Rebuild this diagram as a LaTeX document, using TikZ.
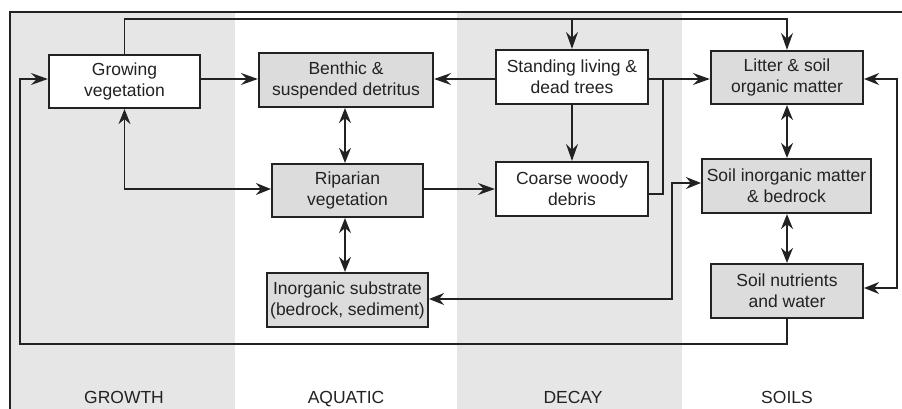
\documentclass[tikz,border=0pt]{standalone}
\usepackage{fontspec}
\setmainfont{Liberation Sans}
\usetikzlibrary{arrows.meta}
\definecolor{colgray}{HTML}{E6E6E6}
\definecolor{boxgray}{HTML}{DCDCDC}
\definecolor{ink}{HTML}{222222}
\tikzset{
  box/.style={draw=ink, line width=2.2pt, align=center, text=ink, inner sep=0pt,
              font=\fontsize{17.5}{21}\selectfont},
  wbox/.style={box, fill=white},
  gbox/.style={box, fill=boxgray},
  conn/.style={draw=ink, line width=1.6pt},
  arr/.style={conn, -{Stealth[length=17pt,width=12pt,inset=6pt]}},
  dbl/.style={conn, {Stealth[length=15pt,width=12pt,inset=5pt]}-{Stealth[length=15pt,width=12pt,inset=5pt]}},
  collabel/.style={text=ink, anchor=base, font=\fontsize{17.5}{21}\selectfont}
}
\begin{document}
\begin{tikzpicture}[x=1pt,y=-1pt]
\useasboundingbox (0,0) rectangle (902,409);
% columns
\fill[colgray] (10,12) rectangle (235,409);
\fill[colgray] (457,12) rectangle (682,409);
\draw[ink, line width=1.4pt] (10,409) -- (10,12) -- (902,12);

% nodes
\node[wbox, minimum width=151pt, minimum height=53pt] (grow) at (124.5,81.5) {Growing\\vegetation};
\node[gbox, minimum width=174pt, minimum height=54pt] (benth) at (346,80) {Benthic \&\\suspended detritus};
\node[gbox, minimum width=151pt, minimum height=53pt] (ripar) at (347.5,190.5) {Riparian\\vegetation};
\node[gbox, minimum width=161pt, minimum height=54pt] (inorg) at (347.5,300) {Inorganic substrate\\(bedrock, sediment)};
\node[wbox, minimum width=152pt, minimum height=54pt] (stand) at (572,77) {Standing living \&\\dead trees};
\node[wbox, minimum width=152pt, minimum height=54pt] (coarse) at (572,189) {Coarse woody\\debris};
\node[gbox, minimum width=152pt, minimum height=53pt] (litter) at (787,77.5) {Litter \& soil\\organic matter};
\node[gbox, minimum width=169pt, minimum height=54pt] (soilin) at (786.5,186) {Soil inorganic matter\\\& bedrock};
\node[gbox, minimum width=152pt, minimum height=54pt] (nutr) at (787,291) {Soil nutrients\\and water};

% column labels
\node[collabel] (lg) at (124,403) {GROWTH};
\node[collabel] (la) at (346,403) {AQUATIC};
\node[collabel] (ld) at (573,403) {DECAY};
\node[collabel] (ls) at (787,403) {SOILS};

% connectors
\coordinate (topL) at (124.5,19);
\coordinate (topS) at (572,19);
\coordinate (topR) at (787,19);
\draw[arr] (grow.north) -- (topL) -- (topR) -- (litter.north);
\draw[arr] (topS) -- (stand.north);

\draw[arr] (grow.east |- 0,79) -- (benth.west |- 0,79);
\draw[arr] (stand.west |- 0,79) -- (benth.east |- 0,79);
\draw[arr] (stand.east |- 0,79) -- (litter.west |- 0,79);

\draw[dbl] (benth.south -| 345,0) -- (ripar.north -| 345,0);
\draw[dbl] (ripar.south -| 345,0) -- (inorg.north -| 345,0);
\draw[dbl] (grow.south) |- (ripar.west |- 0,189);
\draw[arr] (ripar.east |- 0,189) -- (coarse.west |- 0,189);
\draw[arr] (stand.south) -- (coarse.north);

\coordinate (jn) at (663,79);
\draw[conn] (coarse.east |- 0,194) -| (jn);

\coordinate (sv) at (672,183);
\draw[dbl] (inorg.east |- 0,299) -| (sv) -- (soilin.west |- 0,183);

\draw[dbl] (litter.south) -- (soilin.north -| litter.south);
\draw[dbl] (soilin.south -| nutr.north) -- (nutr.north);

\coordinate (rc) at (897,288);
\draw[dbl] (litter.east |- 0,79) -| (rc) -- (nutr.east |- 0,288);

\coordinate (bl) at (20,344);
\draw[arr] (nutr.south) |- (bl) |- (grow.west |- 0,79);
\end{tikzpicture}
\end{document}
